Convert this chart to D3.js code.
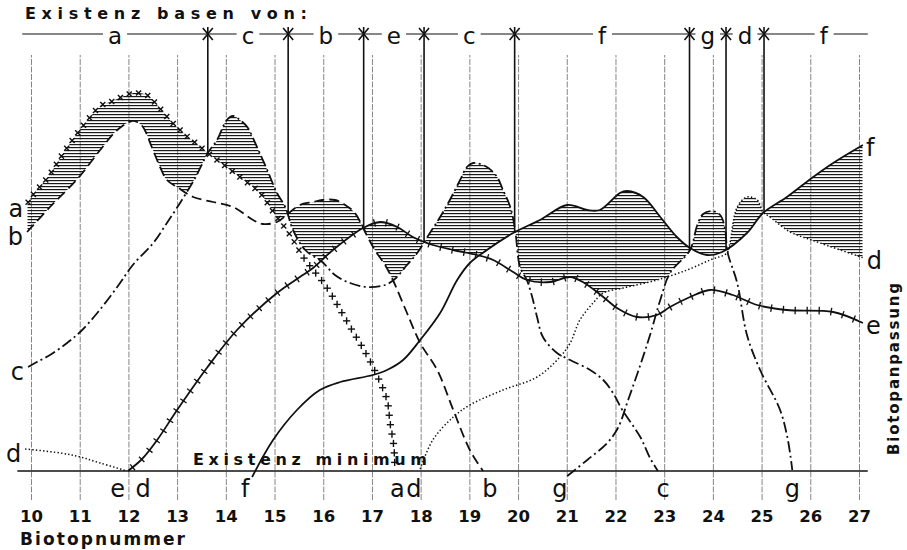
<!DOCTYPE html>
<html>
<head>
<meta charset="utf-8">
<script src="https://cdn.jsdelivr.net/npm/d3@7"></script>
<style>
html, body { margin: 0; padding: 0; background: #fff; }
svg { display: block; font-family: "DejaVu Sans", sans-serif; }
</style>
</head>
<body>
<script>
// Biotopnummern (x axis)
const biotopTicks = d3.range(10, 28);

// Biotopanpassung per species, [Biotopnummer, Anpassung 0..100]
const curveA = [[9.92,66.75],[10.04,69],[10.35,73.5],[10.64,79],[10.94,84.25],[11.25,89],[11.42,91.25],[11.68,92.5],[11.91,93.75],[12.12,94.5],[12.38,94],[12.57,91.75],[12.71,89.75],[12.87,87.5],[13.06,85.25],[13.22,83.5],[13.43,81.5],[13.63,79.5],[14.29,73.5],[14.70,69.5],[14.99,64.5],[15.32,59],[15.59,53.5],[16.08,45.75],[16.35,40.25],[16.59,35.25],[16.86,29.75],[17.10,24],[17.31,17.75],[17.37,12.25],[17.45,6],[17.47,0.25]];
const curveB = [[9.92,59.75],[10.39,66],[10.97,73.25],[11.42,80.25],[11.77,85.25],[12.07,87.5],[12.18,87.25],[12.30,86],[12.48,81],[12.65,76],[12.79,72.75],[13.00,71],[13.33,68.5],[13.74,67.25],[14.15,66],[14.56,62.75],[14.76,61.75],[15.05,62.25],[15.32,64.75],[15.52,66.5],[15.79,67.25],[15.98,67.75],[16.24,67.75],[16.45,66.5],[16.65,64.5],[16.86,59.75],[17.06,55.25],[17.27,51.5],[17.43,47.75],[17.72,39.5],[17.99,32],[18.34,25.25],[18.67,15.25],[19.01,5.25],[19.28,0]];
const curveC = [[9.94,26],[10.12,27.25],[10.39,29],[10.74,32],[11.01,34.75],[11.36,39.5],[11.77,46],[12.09,51.5],[12.51,57],[12.79,62],[13.06,67],[13.37,73.25],[13.63,79.5],[13.82,82.75],[14.02,87.75],[14.15,88.75],[14.29,87.75],[14.44,86],[14.64,81],[14.85,75.25],[15.05,69.5],[15.22,66],[15.38,60.25],[15.63,55.25],[15.98,52.25],[16.24,49],[16.55,47],[16.90,46],[17.27,46.5],[17.47,48],[17.72,51.5],[17.93,54.5],[18.19,59.5],[18.40,63.5],[18.60,67.75],[18.81,72.75],[18.95,76],[19.08,77],[19.36,76],[19.57,73.5],[19.69,70.25],[19.84,66],[19.94,60.25],[20.04,51],[20.18,47.75],[20.29,43.5],[20.39,38.5],[20.51,33.5],[20.80,29.5],[21.07,27.75],[21.48,25.25],[21.75,22.75],[21.95,19.5],[22.14,15.25],[22.51,8.5],[22.71,3.25],[22.87,0]];
const curveDLeft = [[9.88,5.5],[10.60,4.5],[11.01,3.5],[11.42,2],[11.97,0]];
const curveDRight = [[17.99,0.5],[18.25,7.75],[18.67,13.5],[19.01,16.5],[19.69,20.25],[20.39,23.5],[20.86,28.5],[21.07,32],[21.27,37.75],[21.54,42],[21.75,44.5],[22.16,45.75],[22.85,47.75],[23.47,50.25],[23.94,52.75],[24.29,54.5],[24.35,57],[24.50,66],[24.70,68.5],[24.91,67.75],[25.03,64.75],[25.17,63.5],[25.59,59.75],[26.06,57.6],[27.1,53.25]];
const curveE = [[11.99,0],[12.28,3],[12.59,7.75],[13.00,15.25],[13.61,25.75],[14.23,35.25],[15.05,44.5],[15.52,48.5],[15.79,50.75],[16.20,55.25],[16.82,60.75],[17.17,62.25],[17.52,61],[17.84,58.5],[18.25,56.5],[18.67,55.25],[19.16,54],[19.49,52.75],[19.90,49.75],[20.18,47.75],[20.66,47.25],[21.07,48.5],[21.33,47.25],[21.75,43.5],[22.03,40.75],[22.44,38.5],[22.85,39],[23.12,41],[23.53,43.5],[23.94,45.25],[24.41,44],[24.91,41.5],[25.52,40.25],[26.47,39.75],[27.08,37]];
const curveF = [[14.54,-1.5],[14.97,7.75],[15.46,15.25],[15.93,20.25],[16.35,22.25],[17.02,24],[17.31,25.25],[17.64,27.75],[17.99,32.75],[18.40,39.5],[18.75,47.75],[19.01,52],[19.36,55.25],[19.90,59.5],[20.45,62.75],[21.01,66.5],[21.42,65.25],[21.68,65.25],[22.09,69.5],[22.24,70],[22.57,68.5],[22.92,63.5],[23.26,58.5],[23.53,55.75],[23.88,54],[24.19,54.75],[24.70,59.5],[25.03,64.5],[25.52,68.5],[26.06,73.5],[26.47,77],[27.08,81.5]];
const curveG = [[21.01,-1.25],[21.42,2.75],[21.83,7],[22.05,10.75],[22.26,17.75],[22.51,26.5],[22.71,34],[22.92,42.75],[23.12,49.5],[23.53,55.25],[23.68,61.5],[23.80,64.25],[23.98,65],[24.15,64],[24.25,60.5],[24.30,54.75],[24.50,47],[24.70,34],[24.97,25.25],[25.38,15.25],[25.54,7.75],[25.63,0.25]];

// Existenzbasen: boundaries (Biotop) and the species owning each stretch
const baseBounds = [13.63, 15.28, 16.83, 18.07, 19.93, 23.52, 24.27, 25.05];
const baseLetters = ['a','c','b','e','c','f','g','d','f'];

// letters at the foot of the curves (Biotop position)
const footLabels = [['e',11.78],['d',12.3],['f',14.4],['a',17.52],['d',17.86],['b',19.42],['g',20.86],['c',22.98],['g',25.63]];

const W = 907, H = 550;
const svg = d3.select('body').append('svg').attr('width', W).attr('height', H);

const x = d3.scaleLinear().domain([10, 27]).range([31, 859]);
const y = d3.scaleLinear().domain([0, 100]).range([471, 71]);
const ink = '#111';

const pat = svg.append('defs').append('pattern')
  .attr('id', 'hatch').attr('patternUnits', 'userSpaceOnUse')
  .attr('width', 8).attr('height', 3);
pat.append('rect').attr('width', 8).attr('height', 1.2).attr('fill', '#1a1a1a');

// grid lines + tick numbers
const axis = d3.axisBottom(x).tickValues(biotopTicks)
  .tickSizeInner(-445).tickSizeOuter(0).tickPadding(10);
const gx = svg.append('g').attr('transform', 'translate(0,500)').call(axis)
  .attr('font-family', '"DejaVu Sans", sans-serif').attr('font-size', 16.5).attr('font-weight', 'bold');
gx.select('.domain').remove();
gx.selectAll('.tick line').attr('stroke', '#666').attr('stroke-width', 0.8).attr('stroke-dasharray', '6,1.5');
gx.selectAll('.tick text').attr('fill', ink);

const gHatch = svg.append('g');
const gCurves = svg.append('g');
const gMarks = svg.append('g');
const gHead = svg.append('g');
const gHeadBg = gHead.append('g');
const gHeadFg = gHead.append('g');

// baseline "Existenz minimum"
svg.append('line').attr('x1', x(9.72)).attr('x2', x(27.18)).attr('y1', y(0)).attr('y2', y(0))
  .attr('stroke', ink).attr('stroke-width', 1.5);

const lineGen = d3.line().x(d => x(d[0])).y(d => y(d[1])).curve(d3.curveCatmullRom.alpha(0.5));

const species = [
  { key: 'a', data: curveA, stroke: 'none' },
  { key: 'b', data: curveB, dash: '10,5' },
  { key: 'c', data: curveC, dash: '11,3.5,2,3.5' },
  { key: 'd', data: curveDLeft, dash: '1.4,2.2', width: 1.5 },
  { key: 'd', data: curveDRight, dash: '1.4,2.2', width: 1.5 },
  { key: 'e', data: curveE },
  { key: 'f', data: curveF },
  { key: 'g', data: curveG, dash: '11,3.5,2,3.5' }
];

species.forEach(s => {
  s.node = gCurves.append('path')
    .attr('d', lineGen(s.data))
    .attr('fill', 'none')
    .attr('stroke', s.stroke || ink)
    .attr('stroke-width', s.width || 1.8)
    .attr('stroke-dasharray', s.dash || null)
    .node();
});

function sample(node) {
  const L = node.getTotalLength(), pts = [];
  for (let s = 0; s <= L; s += 0.5) {
    const p = node.getPointAtLength(s);
    pts.push([p.x, p.y]);
  }
  return pts;
}
function yAtX(pts, X) {
  let out = null;
  for (let i = 0; i < pts.length - 1; i++) {
    const a = pts[i], b = pts[i + 1];
    if ((a[0] - X) * (b[0] - X) <= 0 && a[0] !== b[0]) {
      const v = a[1] + (X - a[0]) / (b[0] - a[0]) * (b[1] - a[1]);
      out = out === null ? v : Math.min(out, v);
    }
  }
  return out;
}
species.forEach(s => { s.pts = sample(s.node); });

// best and second best adaptation per pixel column -> hatched band
const cols = d3.range(Math.ceil(x(9.85)), Math.floor(x(27.12)) + 1, 0.5);
const env = cols.map(X => {
  const ys = species.map(s => yAtX(s.pts, X)).filter(v => v !== null).sort((a, b) => a - b);
  return { x: X, top: ys[0], sec: ys.length > 1 ? ys[1] : null };
});
const band = d3.area().defined(d => d.sec !== null)
  .x(d => d.x).y0(d => d.sec).y1(d => d.top);
gHatch.append('path').attr('d', band(env)).attr('fill', 'url(#hatch)');

// crosses along a
(function () {
  const node = species[0].node, L = node.getTotalLength();
  for (let s = 2; s < L; s += 9.5) {
    const p = node.getPointAtLength(s);
    const r = 3.6;
    const diag = p.x < x(15.6);
    const g = gMarks.append('g').attr('transform', `translate(${p.x},${p.y}) rotate(${diag ? 45 : 0})`);
    g.append('line').attr('x1', -r).attr('x2', r).attr('stroke', ink).attr('stroke-width', 1.4);
    g.append('line').attr('y1', -r).attr('y2', r).attr('stroke', ink).attr('stroke-width', 1.4);
  }
})();

// ticks across e
(function () {
  const node = species[5].node, L = node.getTotalLength();
  for (let s = 6; s < L; s += 12) {
    const p0 = node.getPointAtLength(Math.max(0, s - 1)), p1 = node.getPointAtLength(Math.min(L, s + 1));
    const p = node.getPointAtLength(s);
    const ang = Math.atan2(p1.y - p0.y, p1.x - p0.x) * 180 / Math.PI;
    gMarks.append('line')
      .attr('transform', `translate(${p.x},${p.y}) rotate(${ang})`)
      .attr('y1', -3.8).attr('y2', 3.8).attr('stroke', ink).attr('stroke-width', 1.3);
  }
})();

// header: Existenzbasen
const headY = 34;
gHeadBg.append('line').attr('x1', x(9.82)).attr('x2', x(27.18)).attr('y1', headY).attr('y2', headY)
  .attr('stroke', ink).attr('stroke-width', 1.2);

const edges = [9.82].concat(baseBounds, [27.5]);
baseLetters.forEach((l, i) => {
  const cx = (x(edges[i]) + x(edges[i + 1])) / 2;
  const t = gHeadFg.append('text').attr('x', cx).attr('y', headY + 10).attr('text-anchor', 'middle')
    .attr('font-size', 23).attr('fill', ink).text(l);
  const bb = t.node().getBBox();
  gHeadBg.append('rect').attr('x', bb.x - 5).attr('y', headY - 2).attr('width', bb.width + 10).attr('height', 4).attr('fill', '#fff');
});

function envAt(X) {
  let best = env[0];
  env.forEach(e => { if (Math.abs(e.x - X) < Math.abs(best.x - X)) best = e; });
  return best;
}
baseBounds.forEach(b => {
  const bx = x(b);
  const e = envAt(bx);
  gHeadFg.append('line').attr('x1', bx).attr('x2', bx).attr('y1', headY - 7).attr('y2', e.sec !== null ? e.sec : e.top)
    .attr('stroke', ink).attr('stroke-width', 1.6);
  gHeadFg.append('path').attr('d', `M${bx - 5},${headY - 6}L${bx + 5},${headY + 6}M${bx + 5},${headY - 6}L${bx - 5},${headY + 6}`)
    .attr('stroke', ink).attr('stroke-width', 1.6);
});

svg.append('text').attr('x', 25).attr('y', 19).attr('textLength', 282).attr('lengthAdjust', 'spacing')
  .attr('font-size', 16).attr('font-weight', 'bold').attr('fill', ink).text('Existenz basen von:');

// curve letters, left and right ends
[['a', curveA], ['b', curveB], ['c', curveC], ['d', curveDLeft]].forEach(([l, data]) => {
  svg.append('text').attr('x', x(data[0][0]) - 4).attr('y', y(data[0][1]) + 13)
    .attr('text-anchor', 'end').attr('font-size', 24).attr('fill', ink).text(l);
});
[['f', curveF], ['d', curveDRight], ['e', curveE]].forEach(([l, data]) => {
  const last = data[data.length - 1];
  svg.append('text').attr('x', x(last[0]) + 3).attr('y', y(last[1]) + 11)
    .attr('font-size', 24).attr('fill', ink).text(l);
});
footLabels.forEach(([l, b]) => {
  svg.append('text').attr('x', x(b)).attr('y', 497).attr('text-anchor', 'middle')
    .attr('font-size', 24).attr('fill', ink).text(l);
});

svg.append('text').attr('x', 193).attr('y', 465).attr('textLength', 234).attr('lengthAdjust', 'spacing')
  .attr('font-size', 16).attr('font-weight', 'bold').attr('fill', ink).text('Existenz minimum');
svg.append('text').attr('x', 20).attr('y', 545).attr('textLength', 165).attr('lengthAdjust', 'spacing')
  .attr('font-size', 17).attr('font-weight', 'bold').attr('fill', ink).text('Biotopnummer');
svg.append('text').attr('transform', 'translate(899,455) rotate(-90)').attr('textLength', 172).attr('lengthAdjust', 'spacing')
  .attr('font-size', 15).attr('font-weight', 'bold').attr('fill', ink).text('Biotopanpassung');
</script>
</body>
</html>
